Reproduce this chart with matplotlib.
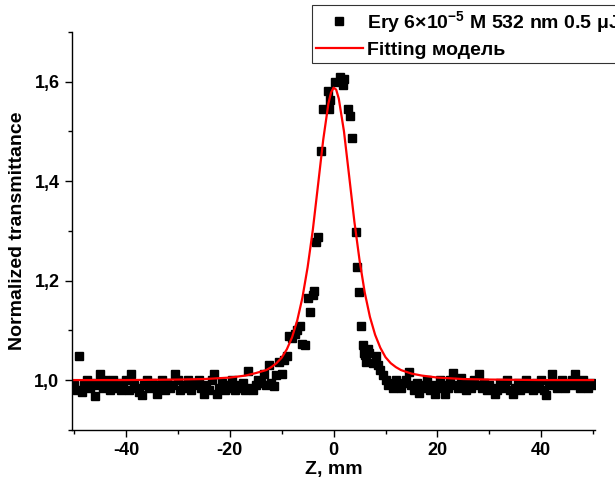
"""Z-scan open-aperture trace with fitting curve."""

import matplotlib
matplotlib.use("Agg")
import matplotlib.pyplot as plt
import numpy as np
from matplotlib.ticker import MultipleLocator, FuncFormatter

# baseline left of the peak, z = -50 ... -17 mm in 0.5 mm steps
t_left = [
    0.99, 0.98, 1.048, 0.975, 0.99, 1.0, 0.985, 0.995, 0.968, 0.99,
    1.012, 0.985, 1.0, 0.99, 0.98, 1.0, 0.985, 0.995, 0.98, 0.99,
    1.0, 0.98, 1.012, 0.99, 0.985, 0.975, 0.97, 0.99, 1.0, 0.985,
    0.995, 0.99, 0.972, 0.985, 1.0, 0.98, 0.995, 0.985, 0.99, 1.013,
    1.0, 0.98, 0.99, 0.985, 1.0, 0.98, 0.995, 0.99, 1.0, 0.985,
    0.972, 0.99, 0.98, 1.0, 1.012, 0.972, 0.985, 0.995, 0.98, 0.99,
    0.985, 1.0, 0.98, 0.99, 0.985, 0.995, 0.98,
]

# central region
z_mid = [
    -16.5, -16.0, -15.5, -15.0, -14.5, -14.0, -13.5, -13.0, -12.5, -12.0,
    -11.5, -11.0, -10.5, -10.0, -9.5, -9.0, -8.5, -8.0, -7.5, -7.0,
    -6.5, -6.0, -5.5, -5.0, -4.5, -4.0, -3.7, -3.3, -3.0, -2.4,
    -2.0, -1.1, -0.8, -0.6, 0.2, 1.2, 1.8, 2.1, 2.75, 3.2,
    3.6, 4.4, 4.5, 4.9, 5.3, 5.6, 5.8, 6.0, 6.3, 6.6,
    6.9, 7.6, 8.1, 8.5, 9.0, 9.5, 10.0,
]
t_mid = [
    1.019, 0.985, 0.98, 0.99, 1.0, 0.995, 1.013, 0.99, 1.03, 0.994,
    0.988, 1.01, 1.037, 1.012, 1.04, 1.048, 1.089, 1.085, 1.092, 1.10,
    1.108, 1.072, 1.07, 1.165, 1.137, 1.172, 1.18, 1.277, 1.288, 1.461,
    1.545, 1.582, 1.545, 1.564, 1.600, 1.609, 1.593, 1.606, 1.545, 1.531,
    1.486, 1.298, 1.228, 1.177, 1.108, 1.070, 1.054, 1.05, 1.037, 1.062,
    1.054, 1.034, 1.048, 1.030, 1.02, 1.010, 1.0,
]

# baseline right of the peak, z = 10.5 ... 50 mm in 0.5 mm steps
t_right = [
    0.99, 0.995, 0.985, 1.0, 0.99, 0.985, 0.995, 1.0, 1.017, 0.99,
    0.98, 0.995, 0.973, 0.985, 0.99, 1.0, 0.98, 0.99, 0.972, 0.985,
    1.0, 0.99, 0.972, 0.985, 1.0, 1.014, 0.99, 0.985, 1.005, 0.99,
    0.98, 0.995, 0.985, 1.0, 0.99, 1.012, 0.985, 0.995, 0.98, 0.99,
    0.985, 0.972, 0.98, 0.995, 0.985, 0.99, 1.0, 0.98, 0.972, 0.985,
    0.995, 0.98, 0.99, 1.0, 0.985, 0.99, 0.98, 0.995, 0.985, 1.0,
    0.98, 0.97, 0.99, 1.013, 0.995, 0.985, 0.99, 1.0, 0.985, 0.995,
    0.99, 1.0, 1.013, 0.99, 0.985, 1.0, 0.99, 0.985, 0.995, 0.99,
]

# fitting curve
z_fit = [
    -50, -40, -30, -25, -20, -17, -15, -13, -12, -11, -10, -9, -8, -7, -6,
    -5, -4, -3, -2, -1, -0.5, 0, 0.5, 1, 2, 3, 4, 5, 6, 7, 8, 9, 10, 11,
    12, 13, 15, 17, 20, 25, 30, 40, 50,
]
t_fit = [
    1.000, 1.000, 1.001, 1.002, 1.005, 1.009, 1.014, 1.020, 1.026, 1.034,
    1.045, 1.062, 1.086, 1.120, 1.166, 1.227, 1.302, 1.392, 1.483, 1.556,
    1.578, 1.588, 1.584, 1.566, 1.500, 1.410, 1.319, 1.241, 1.176, 1.127,
    1.091, 1.065, 1.046, 1.034, 1.026, 1.020, 1.013, 1.009, 1.005, 1.002,
    1.001, 1.000, 1.000,
]

z_left = -50 + 0.5 * np.arange(len(t_left))
z_right = 10.5 + 0.5 * np.arange(len(t_right))
z_all = np.concatenate([z_left, z_mid, z_right])
t_all = np.concatenate([t_left, t_mid, t_right])

plt.rcParams["font.family"] = ["Liberation Sans", "DejaVu Sans"]
plt.rcParams["font.weight"] = "bold"
plt.rcParams["mathtext.fontset"] = "custom"
plt.rcParams["mathtext.rm"] = "Liberation Sans:bold"
plt.rcParams["mathtext.bf"] = "Liberation Sans:bold"
plt.rcParams["mathtext.default"] = "bf"

fig = plt.figure(figsize=(6.15, 4.84), dpi=100)
ax = fig.add_axes([0.117, 0.112, 0.85, 0.822])

ax.plot(z_all, t_all, "s", color="black", markersize=5.5, linestyle="none",
        label="Ery 6×10$^{-5}$ M 532 nm 0.5 μJ")
ax.plot(z_fit, t_fit, color="red", linewidth=1.6, label="Fitting модель")

ax.set_xlim(-50.4, 50.3)
ax.set_ylim(0.9, 1.7)
ax.xaxis.set_major_locator(MultipleLocator(20))
ax.xaxis.set_minor_locator(MultipleLocator(10))
ax.yaxis.set_major_locator(MultipleLocator(0.2))
ax.yaxis.set_minor_locator(MultipleLocator(0.1))
ax.yaxis.set_major_formatter(FuncFormatter(lambda v, p: f"{v:.1f}".replace(".", ",")))
ax.xaxis.set_major_formatter(FuncFormatter(lambda v, p: f"{v:.0f}"))

for side in ["top", "right"]:
    ax.spines[side].set_visible(False)
for side in ["left", "bottom"]:
    ax.spines[side].set_linewidth(1.0)

ax.tick_params(which="major", direction="out", length=5, width=1, labelsize=13, pad=4)
ax.tick_params(which="minor", direction="out", length=3, width=1)
for lbl in ax.get_xticklabels() + ax.get_yticklabels():
    lbl.set_fontweight("bold")

ax.set_xlabel("Z, mm", fontsize=14, fontweight="bold", labelpad=1)
ax.set_ylabel("Normalized transmittance", fontsize=14, fontweight="bold", labelpad=6)

leg = fig.legend(loc="upper left", bbox_to_anchor=(312 / 615, 1 - 5 / 484),
                 bbox_transform=fig.transFigure, frameon=True, fancybox=False,
                 edgecolor="black", handlelength=2.4, handletextpad=0.25,
                 borderpad=0.2, labelspacing=0.35, borderaxespad=0,
                 prop={"weight": "bold", "size": 14})
leg.get_frame().set_linewidth(0.8)

fig.savefig("out.png", dpi=100)
